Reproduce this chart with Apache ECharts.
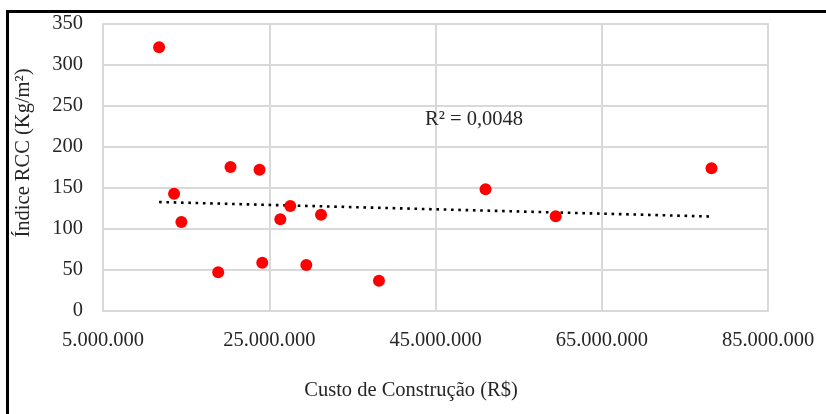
<!DOCTYPE html>
<html>
<head>
<meta charset="utf-8">
<script src="https://cdn.jsdelivr.net/npm/echarts@6/dist/echarts.min.js"></script>
<style>
html,body{margin:0;padding:0;background:#fff;}
#chart{width:826px;height:414px;}
</style>
</head>
<body>
<div id="chart"></div>
<script>
// Construction cost (R$) and RCC index (Kg/m²)
const custo = [11750000, 20340000, 23830000, 13550000, 14430000, 27530000, 26330000, 31230000, 18860000, 24160000, 29460000, 38200000, 51020000, 59460000, 78200000];
const indice = [321.6, 175.6, 172.3, 143.1, 108.5, 128.0, 111.8, 117.5, 47.2, 58.9, 56.1, 37.0, 148.4, 115.5, 174.0];
const xTicks = [5000000, 25000000, 45000000, 65000000, 85000000];
const yTicks = [0, 50, 100, 150, 200, 250, 300, 350];
const r2Label = 'R² = 0,0048';
const xTitle = 'Custo de Construção (R$)';
const yTitle = 'Índice RCC (Kg/m²)';

const points = custo.map((x, i) => [x, indice[i]]);
// least-squares trendline from the data
const n = custo.length;
const mx = custo.reduce((a, b) => a + b, 0) / n;
const my = indice.reduce((a, b) => a + b, 0) / n;
let sxy = 0, sxx = 0;
for (let i = 0; i < n; i++) { sxy += (custo[i] - mx) * (indice[i] - my); sxx += (custo[i] - mx) ** 2; }
const slope = sxy / sxx, icpt = my - slope * mx;
const x0 = Math.min(...custo), x1 = Math.max(...custo);
const trend = [[x0, icpt + slope * x0], [x1, icpt + slope * x1]];

const FONT = 'Liberation Serif';
const TXT = '#262626';
const GRID = '#d9d9d9';
const fmt = v => String(Math.round(v)).replace(/\B(?=(\d{3})+(?!\d))/g, '.');

const chart = echarts.init(document.getElementById('chart'));
chart.setOption({
  animation: false,
  backgroundColor: '#fff',
  grid: { left: 103, top: 24, right: 58, bottom: 103, containLabel: false },
  xAxis: {
    type: 'value',
    min: xTicks[0], max: xTicks[xTicks.length - 1], interval: xTicks[1] - xTicks[0],
    axisLine: { show: true, lineStyle: { color: GRID, width: 2 } },
    axisTick: { show: false },
    splitLine: { show: true, lineStyle: { color: GRID, width: 2 } },
    axisLabel: { formatter: fmt, fontFamily: FONT, fontSize: 20.5, color: TXT, margin: 19 }
  },
  yAxis: {
    type: 'value',
    min: yTicks[0], max: yTicks[yTicks.length - 1], interval: yTicks[1] - yTicks[0],
    axisLine: { show: true, lineStyle: { color: GRID, width: 2 } },
    axisTick: { show: false },
    splitLine: { show: true, lineStyle: { color: GRID, width: 2 } },
    axisLabel: { fontFamily: FONT, fontSize: 20.5, color: TXT, margin: 20, padding: [4, 0, 0, 0] }
  },
  graphic: [
    { type: 'line', shape: { x1: 7.5, y1: 10, x2: 7.5, y2: 414 }, style: { stroke: '#000', lineWidth: 3 } },
    { type: 'line', shape: { x1: 6, y1: 11.5, x2: 826, y2: 11.5 }, style: { stroke: '#000', lineWidth: 3 } },
    { type: 'rect', shape: { x: 768, y: 24, width: 1, height: 287 }, style: { fill: GRID }, z: 5 },
    { type: 'rect', shape: { x: 103, y: 23, width: 666, height: 2 }, style: { fill: GRID }, z: 5 },
    { type: 'text', x: 425, y: 120, style: { text: r2Label, font: '20.5px "Liberation Serif"', fill: TXT, textAlign: 'left', textVerticalAlign: 'middle' }, z: 10 },
    { type: 'text', x: 411, y: 391, style: { text: xTitle, font: '20.5px "Liberation Serif"', fill: TXT, textAlign: 'center', textVerticalAlign: 'middle' } },
    { type: 'text', x: 24, y: 153, rotation: Math.PI / 2, style: { text: yTitle, font: '20.5px "Liberation Serif"', fill: TXT, textAlign: 'center', textVerticalAlign: 'middle' } }
  ],
  series: [
    {
      type: 'line', data: trend, showSymbol: false, symbol: 'none',
      lineStyle: { color: '#000', width: 2.6, type: [2.6, 4.7] }, z: 3, silent: true
    },
    {
      type: 'scatter', data: points, symbol: 'circle', symbolSize: 12,
      itemStyle: { color: '#ff0000', opacity: 1 }, z: 4
    }
  ]
});
</script>
</body>
</html>
